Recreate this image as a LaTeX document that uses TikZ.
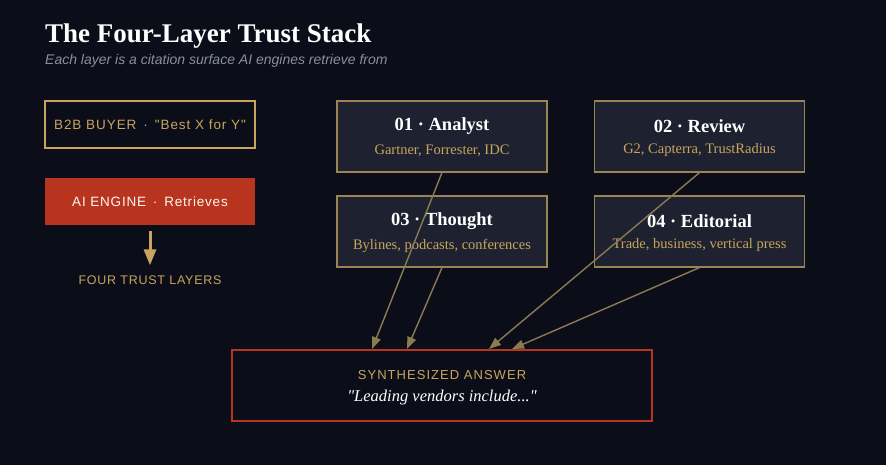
\documentclass[tikz,border=0pt]{standalone}
\usepackage{fontspec}
\setmainfont{Liberation Serif}[Ligatures=TeXOff]
\setsansfont{Liberation Sans}[Ligatures=TeXOff]
\usetikzlibrary{arrows.meta}
\definecolor{bgdark}{HTML}{0B0E19}
\definecolor{cardfill}{HTML}{1E2230}
\definecolor{cardline}{HTML}{9A8456}
\definecolor{goldtxt}{HTML}{C9A45E}
\definecolor{enginered}{HTML}{B8341F}
\definecolor{linkgold}{HTML}{8C7A52}
\definecolor{subgray}{HTML}{8A8F9C}
\newcommand\spacedsf[2]{\sffamily\fontsize{#2}{#2}\selectfont\addfontfeatures{LetterSpace=#1}}
\tikzset{
	layercard/.style={draw=cardline, line width=1.2pt, fill=cardfill, minimum width=210pt, minimum height=71pt, inner sep=0pt},
	feed/.style={draw=linkgold, line width=1.4pt, -{Triangle[length=12pt, width=9pt]}}
}
\begin{document}
\begin{tikzpicture}[x=1pt, y=-1pt]
			%%%%% START %%%%%
			
			\fill[bgdark] (0, 0) rectangle (886, 465);
			\useasboundingbox (0, 0) rectangle (886, 465);
			
			\node[anchor=base west, text=white, font=\bfseries\fontsize{27}{29}\selectfont, inner sep=0pt] (title) at (45, 42.5) {The Four-Layer Trust Stack};
			\node[anchor=base west, text=subgray, font=\sffamily\itshape\fontsize{14}{16}\selectfont, inner sep=0pt] (subtitle) at (45, 65) {Each layer is a citation surface AI engines retrieve from};
			
			% left column
			\node[draw=goldtxt, line width=1.5pt, fill=bgdark, minimum width=210pt, minimum height=47pt, inner sep=0pt, text=goldtxt, font=\spacedsf{7}{13.5}] (buyer) at (150, 124.5) {B2B BUYER \,·\, "Best X for Y"};
			\node[fill=enginered, minimum width=210pt, minimum height=47pt, inner sep=0pt, text=white!92!goldtxt, font=\spacedsf{6}{13.5}] (engine) at (150, 201.5) {AI ENGINE \,·\, Retrieves};
			\node[text=goldtxt, font=\spacedsf{6}{12.5}, inner sep=0pt] (layers) at (150, 280) {FOUR TRUST LAYERS};
			\draw[draw=goldtxt, line width=3pt, -{Triangle[length=16pt, width=12pt]}] ([yshift=-6pt]engine.south) -- ([yshift=10pt]layers.north);
			
			% trust layers
			\node[layercard] (analyst) at (442, 136.5) {};
			\node[layercard] (review) at (699.5, 136.5) {};
			\node[layercard] (thought) at (442, 231.5) {};
			\node[layercard] (editorial) at (699.5, 231.5) {};
			
			\foreach \card/\head/\list in {analyst/01 · Analyst/{Gartner, Forrester, IDC}, review/02 · Review/{G2, Capterra, TrustRadius}, thought/03 · Thought/{Bylines, podcasts, conferences}, editorial/04 · Editorial/{Trade, business, vertical press}} {
				\node[text=white, font=\bfseries\fontsize{18.5}{20}\selectfont] at ([yshift=10pt]\card.center) {\head};
				\node[text=goldtxt, font=\fontsize{14.5}{16}\selectfont] at ([yshift=-14pt]\card.center) {\list};
			}
			
			% answer
			\node[draw=enginered, line width=2pt, fill=bgdark, minimum width=420pt, minimum height=71pt, inner sep=0pt] (answer) at (442, 385.5) {};
			\node[text=goldtxt, font=\spacedsf{8}{13}] (answerhead) at ([yshift=10.5pt]answer.center) {SYNTHESIZED ANSWER};
			\node[text=white, font=\itshape\fontsize{16.5}{18}\selectfont] (answerquote) at ([yshift=-12.5pt]answer.center) {"Leading vendors include..."};
			
			\draw[feed] (analyst.south) -- ([xshift=-70pt]answer.north);
			\draw[feed] (thought.south) -- ([xshift=-35pt]answer.north);
			\draw[feed] (review.south) -- ([xshift=47pt]answer.north);
			\draw[feed] (editorial.south) -- ([xshift=70pt]answer.north);
			
			%%%%% END %%%%%
\end{tikzpicture}
\end{document}
